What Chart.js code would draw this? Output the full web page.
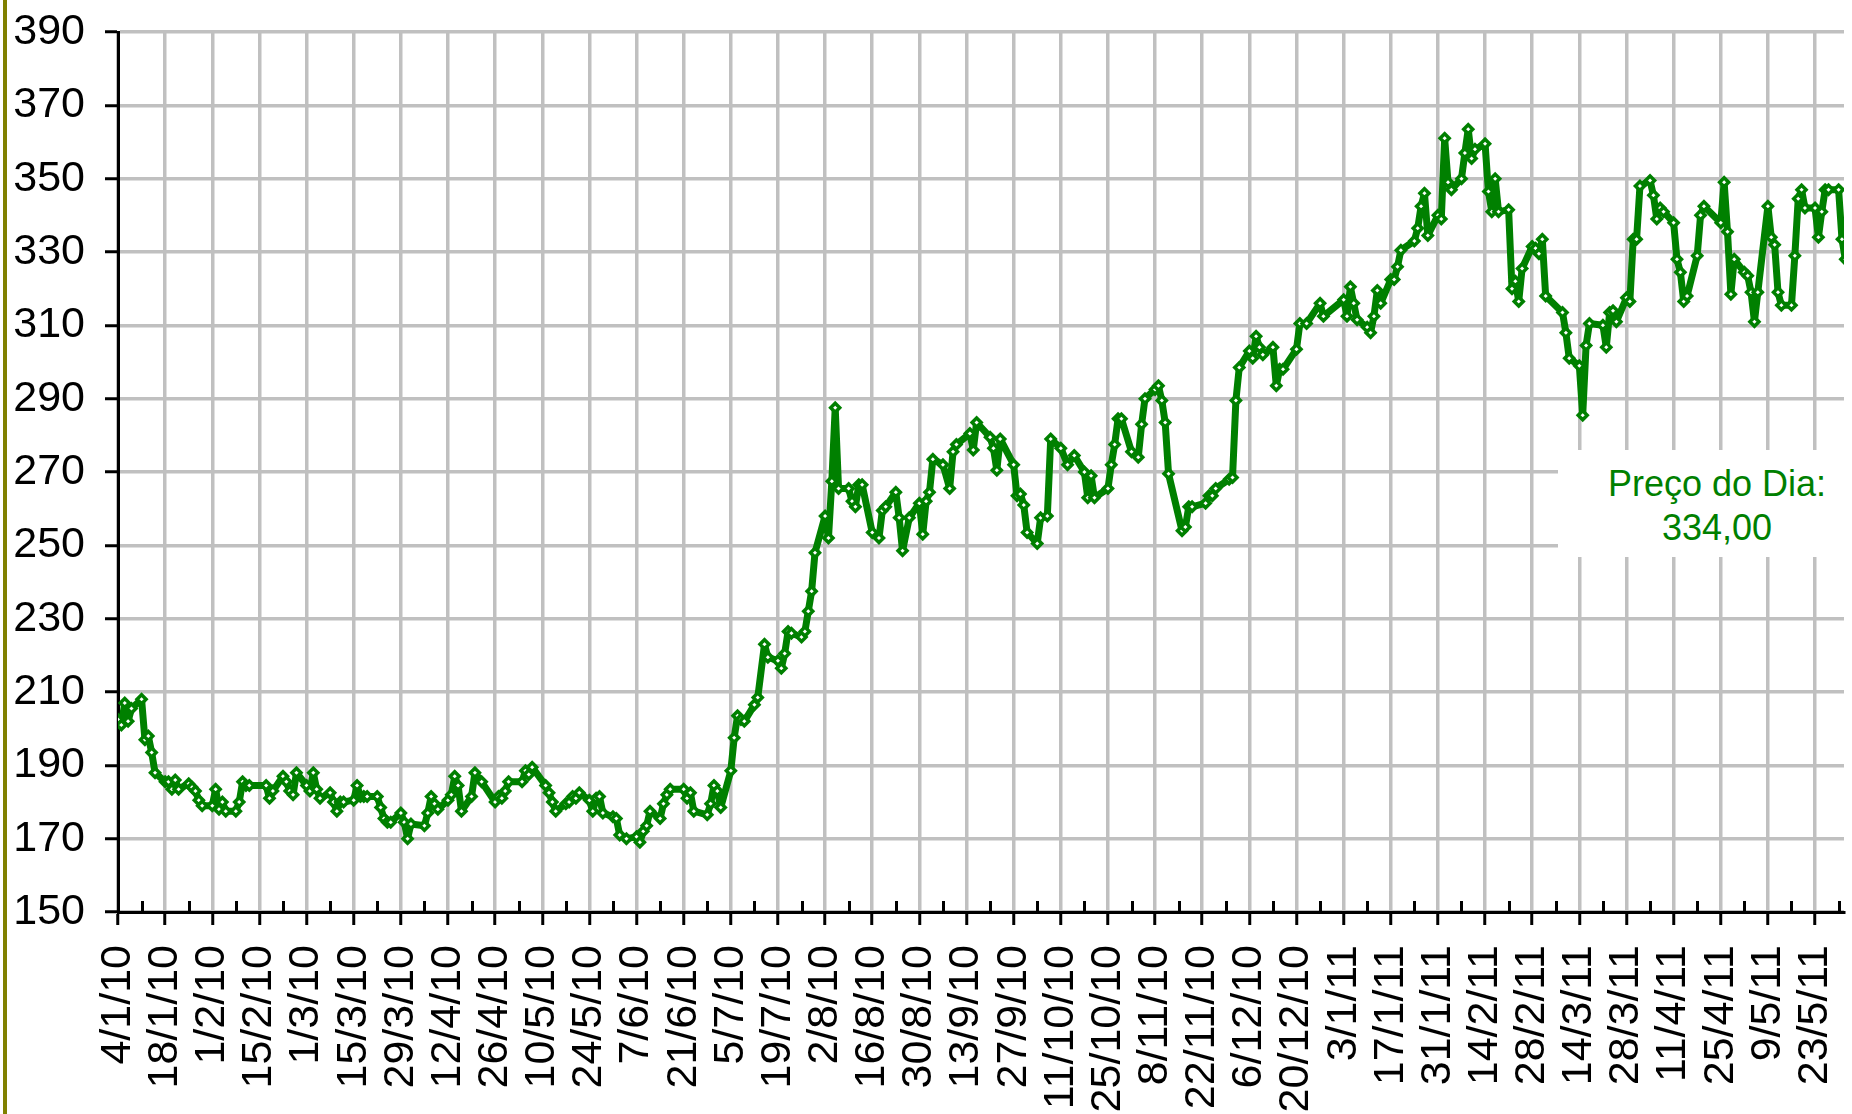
<!DOCTYPE html>
<html>
<head>
<meta charset="utf-8">
<script src="https://cdn.jsdelivr.net/npm/chart.js@4/dist/chart.umd.min.js"></script>
<style>
html,body{margin:0;padding:0;background:#fff;overflow:hidden;width:1852px;height:1114px;}
#wrap{position:relative;width:1852px;height:1114px;overflow:hidden;background:#fff;}
#c{position:absolute;left:0;top:0;}
#edge{position:absolute;left:3px;top:0;width:4px;height:1114px;background:#808000;}
#note{position:absolute;left:1558px;top:450px;width:318px;height:107px;background:#fff;color:#008000;
  font-family:'Liberation Sans',Arial,sans-serif;font-size:36px;line-height:44px;text-align:center;
  padding-top:12px;box-sizing:border-box;white-space:nowrap;}
</style>
</head>
<body>
<div id="wrap">
  <canvas id="c" width="1852" height="1114"></canvas>
  <div id="edge"></div>
  <div id="note">Preço do Dia:<br>334,00</div>
</div>
<script>
// ---- data (d/m/yy trading dates and prices) ----
const dates = [
 '4/1/10','5/1/10','6/1/10','7/1/10','8/1/10','11/1/10','12/1/10','13/1/10','14/1/10','15/1/10','18/1/10','19/1/10','20/1/10','21/1/10','22/1/10','25/1/10','26/1/10','27/1/10','28/1/10','29/1/10',
 '1/2/10','2/2/10','3/2/10','4/2/10','5/2/10','8/2/10','9/2/10','10/2/10','11/2/10','12/2/10','17/2/10','18/2/10','19/2/10','22/2/10','23/2/10','24/2/10','25/2/10','26/2/10',
 '1/3/10','2/3/10','3/3/10','4/3/10','5/3/10','8/3/10','9/3/10','10/3/10','11/3/10','12/3/10','15/3/10','16/3/10','17/3/10','18/3/10','19/3/10','22/3/10','23/3/10','24/3/10','25/3/10','26/3/10','29/3/10','30/3/10','31/3/10',
 '1/4/10','5/4/10','6/4/10','7/4/10','8/4/10','9/4/10','12/4/10','13/4/10','14/4/10','15/4/10','16/4/10','19/4/10','20/4/10','22/4/10','26/4/10','27/4/10','28/4/10','29/4/10','30/4/10',
 '4/5/10','5/5/10','6/5/10','7/5/10','11/5/10','12/5/10','13/5/10','14/5/10','17/5/10','18/5/10','19/5/10','20/5/10','21/5/10','24/5/10','25/5/10','26/5/10','27/5/10','28/5/10','31/5/10',
 '1/6/10','2/6/10','4/6/10','7/6/10','8/6/10','9/6/10','10/6/10','11/6/10','14/6/10','15/6/10','16/6/10','17/6/10','21/6/10','22/6/10','23/6/10','24/6/10','28/6/10','29/6/10','30/6/10',
 '1/7/10','2/7/10','5/7/10','6/7/10','7/7/10','8/7/10','9/7/10','12/7/10','13/7/10','15/7/10','16/7/10','19/7/10','20/7/10','21/7/10','22/7/10','23/7/10','26/7/10','27/7/10','28/7/10','29/7/10','30/7/10',
 '2/8/10','3/8/10','4/8/10','5/8/10','6/8/10','9/8/10','10/8/10','11/8/10','12/8/10','13/8/10','16/8/10','18/8/10','19/8/10','20/8/10','23/8/10','24/8/10','25/8/10','27/8/10','30/8/10','31/8/10',
 '1/9/10','2/9/10','3/9/10','6/9/10','8/9/10','9/9/10','10/9/10','14/9/10','15/9/10','16/9/10','20/9/10','21/9/10','22/9/10','23/9/10','27/9/10','28/9/10','29/9/10','30/9/10',
 '1/10/10','4/10/10','5/10/10','7/10/10','8/10/10','11/10/10','13/10/10','15/10/10','18/10/10','19/10/10','20/10/10','21/10/10','25/10/10','26/10/10','27/10/10','28/10/10','29/10/10',
 '1/11/10','3/11/10','4/11/10','5/11/10','8/11/10','9/11/10','10/11/10','11/11/10','12/11/10','16/11/10','17/11/10','18/11/10','19/11/10','23/11/10','24/11/10','25/11/10','26/11/10','30/11/10',
 '1/12/10','2/12/10','3/12/10','6/12/10','7/12/10','8/12/10','9/12/10','10/12/10','13/12/10','14/12/10','15/12/10','16/12/10','20/12/10','21/12/10','23/12/10','27/12/10','28/12/10',
 '3/1/11','4/1/11','5/1/11','6/1/11','7/1/11','10/1/11','11/1/11','12/1/11','13/1/11','14/1/11','17/1/11','18/1/11','19/1/11','20/1/11','24/1/11','25/1/11','26/1/11','27/1/11','28/1/11','31/1/11',
 '1/2/11','2/2/11','3/2/11','4/2/11','7/2/11','8/2/11','9/2/11','10/2/11','11/2/11','14/2/11','15/2/11','16/2/11','17/2/11','18/2/11','21/2/11','22/2/11','23/2/11','24/2/11','25/2/11','28/2/11',
 '1/3/11','2/3/11','3/3/11','4/3/11','9/3/11','10/3/11','11/3/11','14/3/11','15/3/11','16/3/11','17/3/11','21/3/11','22/3/11','23/3/11','24/3/11','25/3/11','28/3/11','29/3/11','30/3/11','31/3/11',
 '1/4/11','4/4/11','5/4/11','6/4/11','7/4/11','8/4/11','11/4/11','12/4/11','13/4/11','14/4/11','15/4/11','18/4/11','19/4/11','20/4/11','25/4/11','26/4/11','27/4/11','28/4/11','29/4/11',
 '2/5/11','3/5/11','4/5/11','5/5/11','6/5/11','9/5/11','10/5/11','11/5/11','12/5/11','13/5/11','16/5/11','17/5/11','18/5/11','19/5/11','20/5/11','23/5/11','24/5/11','25/5/11','26/5/11','27/5/11','30/5/11','31/5/11',
 '1/6/11'
];
const prices = [
 202.5,201,207,202,205.5,208,197,198,193.5,188,185.5,185.5,183.5,186,183.5,185,184,183,180.5,179,
 179,183.5,178,180,177.5,177.5,180,185.5,184.5,184.5,184.5,181,183,187,185.5,183,182,188,
 184.5,183,188,183.5,181,182.5,180,177.5,180,180,180.5,184.5,181.5,181.5,181.5,181.5,178.5,175.5,174.5,174.5,177,174.5,170,
 174,173.5,177,181.5,179.5,178,180.5,182,187,184.5,177.5,181.5,188,185.5,180,181.5,181,183,185.5,
 185.5,188.5,187.5,189.5,184.5,182.5,180,177.5,179.5,180,181.5,181,182.5,180.5,177.5,181,181.5,177,176,
 175.5,171,170,170.5,169,172,173.5,177.5,175.5,179.5,182,183.5,183.5,181,182.5,177.5,176.5,179.5,184.5,
 183,178.5,188.5,197.5,203.5,202.5,202,206.5,208.5,223,219.5,218.5,216.5,220.5,226.5,226,225,226.5,232,237.5,248,
 258,252,267.5,287.5,265.5,265.5,262,260.5,266.5,266.5,253.5,252,259.5,260.5,264.5,257.5,248.5,257.5,261.5,253,
 262,264.5,273.5,272,265.5,275.5,277.5,280.5,276,283.5,279.5,276.5,270.5,279,272,263.5,264,261,
 253.5,250.5,257.5,258,279,276.5,272,274.5,270,263,269,263,265.5,272,277.5,284.5,284.5,
 275.5,274,283,290,292.5,293.5,289.5,283.5,269.5,254,255,260.5,260.5,261.5,263.5,263.5,265.5,268,
 268.5,289.5,298.5,303,301,307,304,302,304,293.5,298,298,303.5,310.5,310.5,316,312.5,
 317,312.5,320.5,316,311.5,309.5,308,312.5,319.5,316,322.5,322.5,326,330.5,333,336.5,342.5,346,334.5,340,
 339,361,349,347,350,357,363.5,355.5,358,359.5,346.5,341,350,341,341.5,320,322,316.5,325.5,331.5,
 331,329.5,333.5,318,313.5,308,301,299,285.5,304.5,310.5,310,304,313.5,314,311,317.5,316.5,333.5,333.5,
 348,349.5,345.5,339,342,341,338,328,324.5,316.5,318,329,340,342.5,338,349,335.5,318.5,328,
 324.5,323.5,319,311,319,342.5,334,332,319,315.5,315.5,329,344.5,347,342,342,334,341,347,347,347,333.5,
 328
];
const yTicks = [150,170,190,210,230,250,270,290,310,330,350,370,390];
const startDate = '4/1/10';     // first axis label
const endDay = 512.6;           // visible end of the date axis (days after start)
const tickEveryDays = 14;

// ---- helpers ----
const DAY = 86400000;
function parseD(s){ const [d,m,y] = s.split('/').map(Number); return Date.UTC(2000+y, m-1, d); }
const base = parseD(startDate);
function fmt(v){ const d = new Date(base + Math.round(v)*DAY); return d.getUTCDate()+'/'+(d.getUTCMonth()+1)+'/'+String(d.getUTCFullYear()).slice(2); }
if (dates.length !== prices.length) console.warn('length mismatch', dates.length, prices.length);
const points = dates.map((s,i)=>({x: Math.round((parseD(s)-base)/DAY), y: prices[i]}));

const FONT = "'Liberation Sans', Arial, sans-serif";

const minorTicks = {
  id: 'minorTicks',
  afterDraw(chart){
    const {ctx, chartArea, scales:{x}} = chart;
    ctx.save();
    ctx.strokeStyle = '#000'; ctx.lineWidth = 3;
    for (let d = tickEveryDays/2; d < x.max; d += tickEveryDays){
      const px = Math.round(x.getPixelForValue(d)) + 0.5;
      ctx.beginPath(); ctx.moveTo(px, chartArea.bottom); ctx.lineTo(px, chartArea.bottom - 11); ctx.stroke();
    }
    ctx.restore();
  }
};

new Chart(document.getElementById('c'), {
  type: 'line',
  data: { datasets: [{
    data: points,
    borderColor: '#008000', borderWidth: 7, borderJoinStyle: 'round', tension: 0,
    pointStyle: 'rectRot', pointRadius: 4.5, pointBorderWidth: 3.5,
    pointBackgroundColor: '#ffffff', pointBorderColor: '#008000'
  }]},
  options: {
    responsive: false, animation: false, devicePixelRatio: 1,
    layout: { padding: { top: 32, left: 0, right: 0, bottom: 0 } },
    plugins: { legend: { display: false }, tooltip: { enabled: false } },
    scales: {
      x: {
        type: 'linear', min: 0, max: endDay, bounds: 'data',
        ticks: { stepSize: tickEveryDays, includeBounds: false, autoSkip: false,
          minRotation: 90, maxRotation: 90, padding: 20, color: '#000',
          font: { family: FONT, size: 43 }, callback: v => fmt(v) },
        grid: { color: '#c0c0c0', lineWidth: 3.5, tickColor: '#000', tickWidth: 3, tickLength: 13 },
        border: { color: '#000', width: 3 },
        afterFit(s){ s.height = 202; s.paddingLeft = 0; s.paddingRight = 0; }
      },
      y: {
        min: yTicks[0], max: yTicks[yTicks.length-1], bounds: 'data',
        afterBuildTicks(s){ s.ticks = yTicks.map(v=>({value:v})); },
        ticks: { stepSize: 20, padding: 20, color: '#000', font: { family: FONT, size: 43 } },
        grid: { color: '#c0c0c0', lineWidth: 3.5, tickColor: '#000', tickWidth: 3, tickLength: 13 },
        border: { color: '#000', width: 3 },
        afterFit(s){ s.width = 118; s.paddingTop = 0; s.paddingBottom = 0; }
      }
    }
  },
  plugins: [minorTicks]
});
</script>
</body>
</html>
